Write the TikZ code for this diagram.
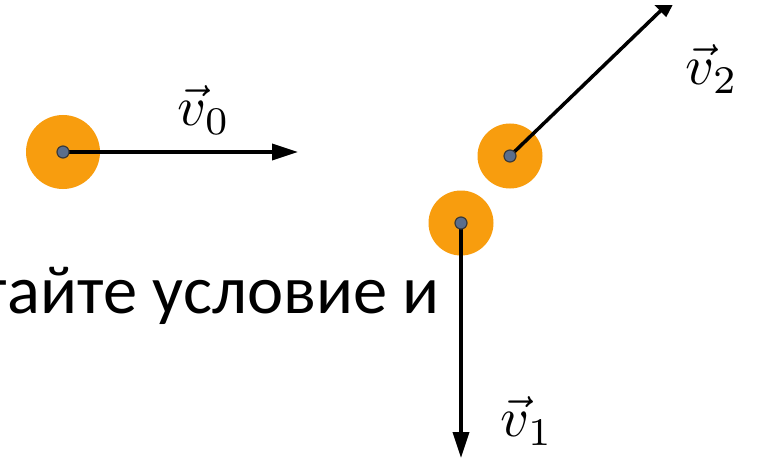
\documentclass[tikz,border=0pt]{standalone}
\usepackage{graphicx}
\usepackage{fontspec}
\newfontfamily\bodyfont{Carlito}
\usetikzlibrary{arrows.meta}
\definecolor{ballorange}{HTML}{F89D0E}
\definecolor{dotgray}{HTML}{5B6E8C}
\definecolor{dotedge}{HTML}{3A3A3A}
\tikzset{
  ball/.style={circle, fill=ballorange, draw=none, inner sep=0pt},
  centre/.style={circle, fill=dotgray, draw=dotedge, line width=1.2pt, minimum size=12pt, inner sep=0pt},
  vel/.style={line width=3.5pt, -{Triangle[length=26pt,width=16pt]}},
  vlabel/.style={inner sep=0pt},
}
\newcommand{\biglabel}[1]{\scalebox{5.6}{$#1$}}
\begin{document}
\begin{tikzpicture}[x=1pt,y=-1pt]
  \useasboundingbox (0,0) rectangle (759,465);
  \fill[white] (0,0) rectangle (759,465);
  % balls
  \node[ball, minimum size=74pt] (b0) at (63,152) {};
  \node[ball, minimum size=65pt] (b2) at (510,156) {};
  \node[ball, minimum size=65pt] (b1) at (461,223) {};
  % text
  \node[anchor=base east, inner sep=0pt, font=\bodyfont\fontsize{68.5}{78}\selectfont] (txt) at (440,313) {тайте условие и};
  % arrow end points
  \coordinate (e0) at (298,152);
  \coordinate (e2) at (679,-7);
  \coordinate (e1) at (461,458);
  % velocity arrows
  \draw[vel] (b0.center) -- (e0);
  \begin{scope}
    \clip (0,6) rectangle (759,465);
    \draw[vel] (b2.center) -- (e2);
  \end{scope}
  \draw[vel] (b1.center) -- (e1);
  % centre dots
  \node[centre] (c0) at (b0.center) {};
  \node[centre] (c2) at (b2.center) {};
  \node[centre] (c1) at (b1.center) {};
  % labels
  \node[vlabel] (l0) at (204,110) {\biglabel{\vec{v}_0}};
  \node[vlabel] (l2) at (712,69) {\biglabel{\vec{v}_2}};
  \node[vlabel] (l1) at (527,421) {\biglabel{\vec{v}_1}};
\end{tikzpicture}
\end{document}
